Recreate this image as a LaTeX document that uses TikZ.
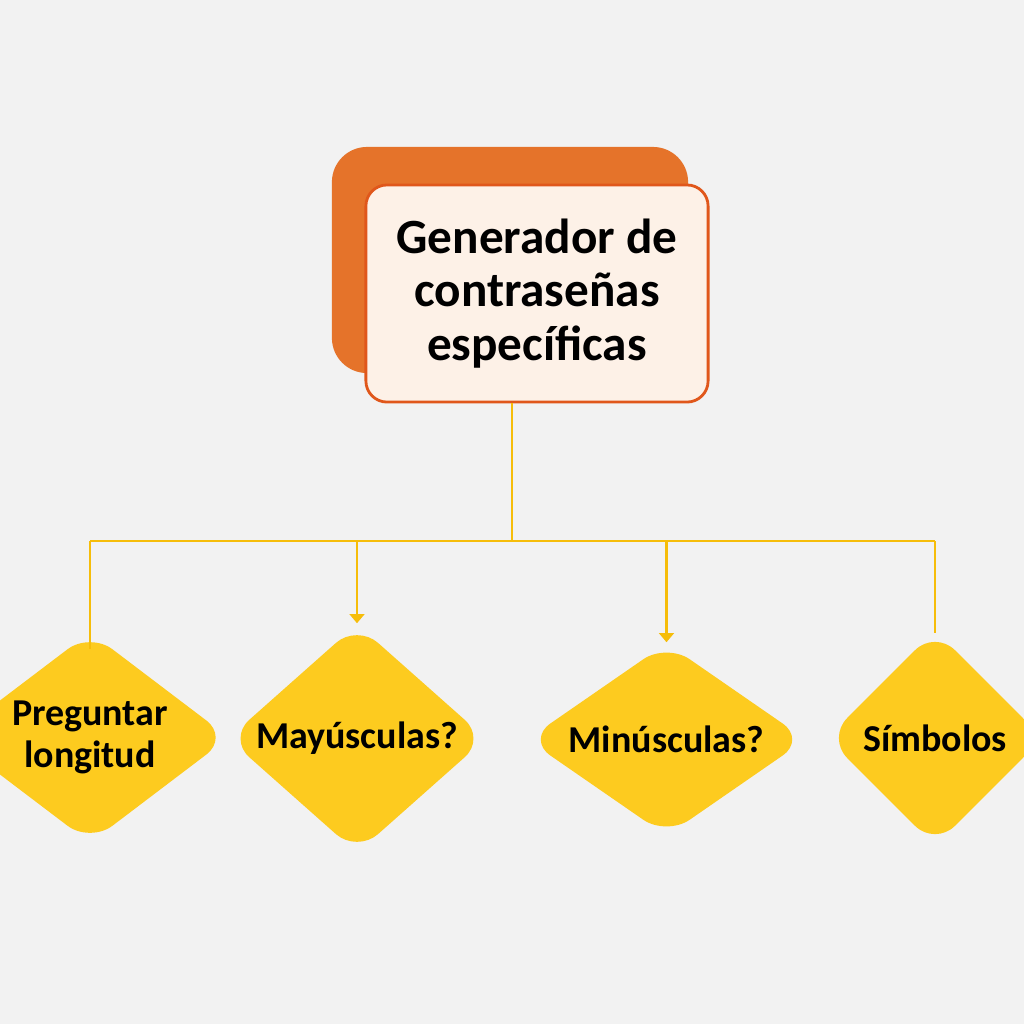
\documentclass[tikz,border=0pt]{standalone}
\usepackage{fontspec}
\setmainfont{Carlito}
\usetikzlibrary{shapes.geometric,arrows.meta}
\definecolor{bgray}{HTML}{F2F2F2}
\definecolor{darkorange}{HTML}{E5732A}
\definecolor{edgeorange}{HTML}{E0571B}
\definecolor{paleorange}{HTML}{FDF1E7}
\definecolor{linkyellow}{HTML}{F6BD0A}
\definecolor{boxyellow}{HTML}{FDCB1F}
\begin{document}
\begin{tikzpicture}[x=0.01cm, y=-0.01cm,
   link/.style={draw=linkyellow, line width=0.65pt},
   arrowlink/.style={link, -{Triangle[width=4.2pt,length=2.6pt]}},
   question/.style={diamond, fill=boxyellow, rounded corners=8pt, inner sep=0pt,
      align=center, font=\bfseries\fontsize{10.8}{12}\selectfont}]
   \fill [bgray] (0,0) rectangle (1024,1024);
   \useasboundingbox (0,0) rectangle (1024,1024);
   % main box with its shadow block
   \node (genback) [fill=darkorange, rounded corners=10pt, minimum width=3.56cm, minimum height=2.26cm] at (510,260) {};
   \node (gen) [fill=paleorange, draw=edgeorange, line width=0.8pt, rounded corners=6pt,
      minimum width=3.42cm, minimum height=2.17cm, align=center,
      font=\bfseries\fontsize{14}{15.2}\selectfont] at (537,293.5) {Generador de\\contraseñas\\específicas};
   % the four questions
   \node (q1) [question, aspect=1.32, minimum width=2.78cm, minimum height=2.11cm] at (90,737.5) {Preguntar\\longitud};
   \node (q2) [question, aspect=1.13, minimum width=2.58cm, minimum height=2.29cm] at (357,738.5) {Mayúsculas?};
   \node (q3) [question, aspect=1.45, minimum width=2.79cm, minimum height=1.93cm] at (666.5,739.5) {Minúsculas?};
   \node (q4) [question, aspect=1, minimum width=2.16cm, minimum height=2.16cm] at (935,738) {Símbolos};
   % connectors
   \coordinate (hub) at (512,541);
   \draw [link] (gen.south -| hub) -- (hub);
   \draw [link] (q1.north |- hub) -- (q4.north |- hub);
   \draw [link] (q1.north |- hub) -- ([yshift=-5pt]q1.north);
   \draw [arrowlink] (q2.north |- hub) -- (q2.north);
   \draw [arrowlink] (q3.north |- hub) -- (q3.north);
   \draw [link] (q4.north |- hub) -- ([yshift=-1pt]q4.north);
\end{tikzpicture}
\end{document}
